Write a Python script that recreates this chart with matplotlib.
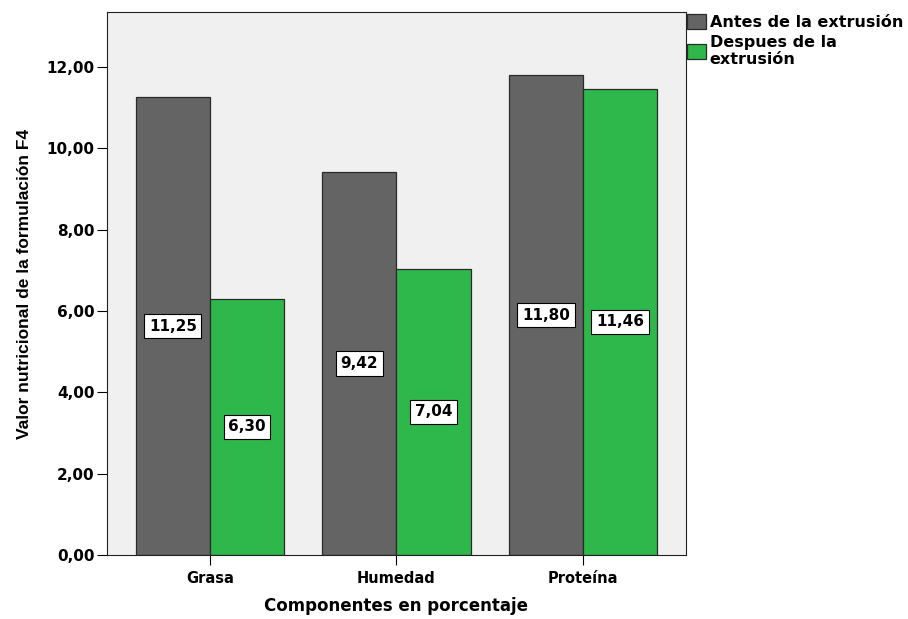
import matplotlib
matplotlib.use("Agg")
import matplotlib.pyplot as plt
import numpy as np

componentes = ["Grasa", "Humedad", "Proteína"]
antes = [11.25, 9.42, 11.80]
despues = [6.30, 7.04, 11.46]
series_labels = ["Antes de la extrusión", "Despues de la\nextrusión"]
yticks = [0, 2, 4, 6, 8, 10, 12]

plt.rcParams['font.family'] = ['DejaVu Sans']
plt.rcParams['font.weight'] = 'bold'

fig = plt.figure(figsize=(9.08, 6.19), dpi=100)
ax = fig.add_axes([0.1178, 0.1034, 0.6377, 0.8772])
ax.set_facecolor("#f0f0f0")

x = np.arange(len(componentes))
w = 0.397
b1 = ax.bar(x - w / 2, antes, w, color="#646464", edgecolor="#2a2a2a", linewidth=0.9, label=series_labels[0])
b2 = ax.bar(x + w / 2, despues, w, color="#2eb84b", edgecolor="#2a2a2a", linewidth=0.9, label=series_labels[1])

box = dict(boxstyle="square,pad=0.3", fc="white", ec="black", lw=0.8)
for bars, vals in ((b1, antes), (b2, despues)):
    for rect, v in zip(bars, vals):
        ax.text(rect.get_x() + rect.get_width() / 2, v / 2, f"{v:.2f}".replace(".", ","),
                ha="center", va="center", fontsize=11, fontweight="bold", bbox=box)

ax.set_xlim(-0.552, 2.552)
ax.set_ylim(0, 13.35)
ax.set_yticks(yticks)
ax.set_yticklabels([f"{t:.2f}".replace(".", ",") for t in yticks], fontsize=11, fontweight="bold")
ax.set_xticks(x)
ax.set_xticklabels(componentes, fontsize=10.5, fontweight="bold")
ax.tick_params(axis="y", length=7, width=0.8, pad=2)
ax.tick_params(axis="x", length=7.5, width=0.8, pad=4)
for s in ax.spines.values():
    s.set_linewidth(0.8)
    s.set_color("#222222")

ax.set_xlabel("Componentes en porcentaje", fontsize=12, fontweight="bold", labelpad=8)
ax.set_ylabel("Valor nutricional de la formulación F4", fontsize=12.5, fontweight="bold",
              family=["Liberation Sans Narrow", "Liberation Sans"], labelpad=10)

ax.legend(loc="upper left", bbox_to_anchor=(0.998, 1.0), frameon=False,
          prop={"family": "DejaVu Sans", "weight": "bold", "size": 11.5},
          handlelength=1.15, handleheight=1.0, handletextpad=0.25,
          borderaxespad=0.0, labelspacing=0.3, borderpad=0.15)

fig.savefig("out.png", dpi=100)
